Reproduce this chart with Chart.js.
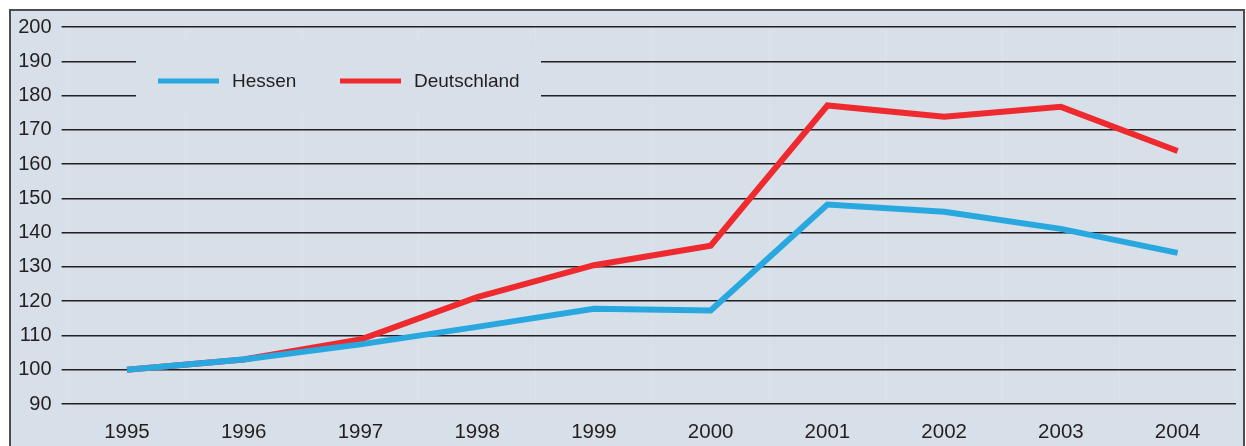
<!DOCTYPE html>
<html lang="de">
<head>
<meta charset="utf-8">
<title>Hessen / Deutschland 1995–2004</title>
<script src="https://cdn.jsdelivr.net/npm/chart.js@4/dist/chart.umd.min.js"></script>
<style>
    html, body { margin: 0; padding: 0; background: #fff; }
    #wrap { width: 1246px; height: 446px; }
</style>
</head>
<body>
<div id="wrap"><canvas id="chart" width="1246" height="446"></canvas></div>
<script>
// Index, 1995 = 100
const years = ['1995', '1996', '1997', '1998', '1999', '2000', '2001', '2002', '2003', '2004'];
const hessen = [100, 103, 107.4, 112.5, 117.8, 117.3, 148.2, 146.1, 141.1, 134.1];
const deutschland = [100, 103, 108.8, 121.2, 130.5, 136.2, 177.1, 173.8, 176.7, 163.8];
const seriesNames = ['Hessen', 'Deutschland'];
const seriesColors = ['#29a8e0', '#ee2a2f'];

const FONT = '"Liberation Sans", Arial, Helvetica, sans-serif';
const TEXT = '#231f20';
const PANEL = '#d7dfe9';

// Framed panel behind the plot.
const panel = {
    id: 'panel',
    beforeDraw(chart) {
        const ctx = chart.ctx;
        ctx.save();
        ctx.fillStyle = '#fff';
        ctx.fillRect(0, 0, chart.width, chart.height);
        ctx.fillStyle = PANEL;
        ctx.fillRect(11, 11, 1232, chart.height);
        ctx.strokeStyle = '#4d4d4f';
        ctx.lineWidth = 2;
        ctx.beginPath();
        ctx.moveTo(10, chart.height + 2);
        ctx.lineTo(10, 10);
        ctx.lineTo(1244, 10);
        ctx.lineTo(1244, chart.height + 2);
        ctx.stroke();
        ctx.restore();
    },
};

// Legend sitting inside the plot, masking the grid lines below it.
const insetLegend = {
    id: 'insetLegend',
    beforeDatasetsDraw(chart) {
        const ctx = chart.ctx;
        ctx.save();
        ctx.fillStyle = PANEL;
        ctx.fillRect(136, 44, 405, 66);
        ctx.font = '19px ' + FONT;
        ctx.textBaseline = 'middle';
        const starts = [158, 340];
        chart.data.datasets.forEach((ds, i) => {
            const x = starts[i];
            ctx.strokeStyle = ds.borderColor;
            ctx.lineWidth = 5;
            ctx.beginPath();
            ctx.moveTo(x, 81);
            ctx.lineTo(x + 61, 81);
            ctx.stroke();
            ctx.fillStyle = TEXT;
            ctx.fillText(ds.label, x + 74, 82);
        });
        ctx.restore();
    },
};

const datasets = [hessen, deutschland].map((values, i) => ({
    label: seriesNames[i],
    data: values,
    borderColor: seriesColors[i],
    backgroundColor: seriesColors[i],
    borderWidth: 6,
    pointRadius: 0,
    tension: 0,
    borderJoinStyle: 'miter',
}));

const chart = new Chart(document.getElementById('chart'), {
    type: 'line',
    data: { labels: years, datasets },
    options: {
        responsive: false,
        animation: false,
        layout: { padding: { top: 27, right: 10, left: 0, bottom: 0 } },
        plugins: {
            legend: { display: false },
            tooltip: { enabled: false },
        },
        scales: {
            x: {
                offset: true,
                grid: {
                    offset: true,
                    color: 'rgba(255,255,255,0.14)',
                    lineWidth: 1,
                    drawTicks: false,
                },
                border: { display: false },
                ticks: {
                    color: TEXT,
                    font: { family: FONT, size: 20.5 },
                    padding: 16,
                    maxRotation: 0,
                },
                afterFit(scale) { scale.height = 42; },
            },
            y: {
                min: 90,
                max: 200,
                grid: {
                    color: '#231f20',
                    lineWidth: 1.5,
                    drawTicks: true,
                    tickLength: 7,
                },
                border: { display: false },
                ticks: {
                    stepSize: 10,
                    color: TEXT,
                    font: { family: FONT, size: 20 },
                    padding: 10,
                },
                afterFit(scale) { scale.width = 68.6; },
            },
        },
    },
    plugins: [panel, insetLegend],
});
</script>
</body>
</html>
